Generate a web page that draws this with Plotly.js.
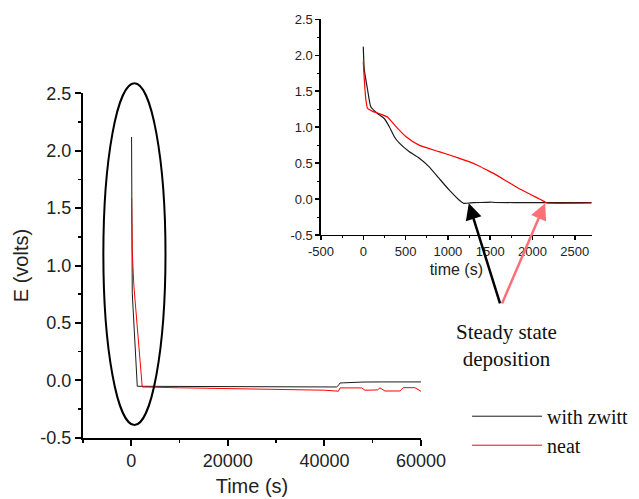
<!DOCTYPE html>
<html>
<head>
<meta charset="utf-8">
<script src="https://cdn.plot.ly/plotly-3.0.1.min.js"></script>
<style>html,body{margin:0;padding:0;background:#fff;}#chart{width:639px;height:499px;}</style>
</head>
<body>
<div id="chart"></div>
<script>
// ---- Main plot data (long run) ----
var mainTimeZwitt = [60, 200, 1240, 2500, 10000, 20000, 30000, 40000, 42500, 42900, 43240, 44000, 45000, 48000, 52000, 60000];
var mainEZwitt    = [2.12, 0.76, -0.052, -0.052, -0.052, -0.053, -0.055, -0.057, -0.058, -0.045, -0.023, -0.022, -0.02, -0.015, -0.014, -0.014];
var mainTimeNeat  = [60, 200, 540, 2270, 10000, 20000, 30000, 40000, 42900, 43240, 47720, 48400, 50000, 51000, 51500, 52000, 52540, 55640, 56320, 58740, 59770, 60000];
var mainENeat     = [1.59, 1.12, 0.82, -0.058, -0.065, -0.072, -0.08, -0.086, -0.095, -0.066, -0.066, -0.086, -0.085, -0.083, -0.066, -0.08, -0.093, -0.093, -0.064, -0.064, -0.095, -0.095];

// ---- Inset data (first 2700 s) ----
var insetTimeZwitt = [0, 12, 51, 90, 169, 247, 306, 365, 424, 541, 659, 776, 894, 1012, 1129, 1188, 1300, 1450, 1500, 1550, 2000, 2700];
var insetEZwitt    = [2.12, 1.80, 1.52, 1.28, 1.19, 1.12, 1.01, 0.87, 0.78, 0.66, 0.57, 0.45, 0.29, 0.13, -0.01, -0.06, -0.05, -0.047, -0.043, -0.047, -0.05, -0.05];
var insetTimeNeat  = [0, 12, 31, 51, 110, 208, 286, 384, 502, 659, 894, 1129, 1250, 1350, 1450, 1550, 1650, 1750, 1850, 1950, 2050, 2141, 2170, 2700];
var insetENeat     = [1.91, 1.66, 1.38, 1.26, 1.22, 1.18, 1.14, 1.01, 0.87, 0.75, 0.66, 0.57, 0.52, 0.47, 0.41, 0.35, 0.28, 0.21, 0.14, 0.08, 0.02, -0.036, -0.055, -0.055];

var seriesNames = ['with zwitt', 'neat'];
var mainXTicks = [0, 20000, 40000, 60000];
var mainXTickText = ['0', '20000', '40000', '60000'];
var yTicks = [-0.5, 0, 0.5, 1, 1.5, 2, 2.5];
var yTickText = ['-0.5', '0.0', '0.5', '1.0', '1.5', '2.0', '2.5'];
var insetXTicks = [-500, 0, 500, 1000, 1500, 2000, 2500];
var insetXTickText = ['-500', '0', '500', '1000', '1500', '2000', '2500'];

var sans = 'Liberation Sans, Arial, sans-serif';
var serif = 'Liberation Serif, Times New Roman, serif';
var black = '#1a1a1a', red = '#ff0000';

var traces = [
  {x: mainTimeZwitt, y: mainEZwitt, xaxis: 'x', yaxis: 'y', mode: 'lines', name: seriesNames[0],
   line: {color: black, width: 1}, showlegend: true},
  {x: mainTimeNeat, y: mainENeat, xaxis: 'x', yaxis: 'y', mode: 'lines', name: seriesNames[1],
   line: {color: red, width: 1}, showlegend: true},
  {x: insetTimeZwitt, y: insetEZwitt, xaxis: 'x2', yaxis: 'y2', mode: 'lines', name: seriesNames[0],
   line: {color: black, width: 1.2, shape: 'spline', smoothing: 0.5}, showlegend: false},
  {x: insetTimeNeat, y: insetENeat, xaxis: 'x2', yaxis: 'y2', mode: 'lines', name: seriesNames[1],
   line: {color: red, width: 1.2, shape: 'spline', smoothing: 0.5}, showlegend: false}
];

function axisBase(size) {
  return {
    showgrid: false, zeroline: false, showline: true, linecolor: '#000', mirror: false,
    ticks: 'outside', tickcolor: '#000', tickfont: {family: sans, size: size, color: '#222'}
  };
}

var xMain = Object.assign(axisBase(18), {
  domain: [0.1299, 0.6588], range: [-10000, 60000], anchor: 'y',
  tickmode: 'array', tickvals: mainXTicks, ticktext: mainXTickText,
  ticklen: 6, tickwidth: 2, linewidth: 2,
  minor: {tickmode: 'linear', tick0: 0, dtick: 10000, ticks: 'outside', ticklen: 3, tickwidth: 1.5, tickcolor: '#000'},
  title: {text: 'Time (s)', font: {family: sans, size: 20, color: '#222'}, standoff: 9}
});
var yMain = Object.assign(axisBase(18), {
  domain: [0.1228, 0.8130], range: [-0.5, 2.5], anchor: 'x',
  tickmode: 'array', tickvals: yTicks, ticktext: yTickText,
  ticklen: 6, tickwidth: 2, linewidth: 2,
  minor: {tickmode: 'linear', tick0: 0, dtick: 0.25, ticks: 'outside', ticklen: 3, tickwidth: 1.5, tickcolor: '#000'},
  title: {text: 'E (volts)', font: {family: sans, size: 20, color: '#222'}, standoff: 6}
});
var xInset = Object.assign(axisBase(13), {
  domain: [0.5023, 0.926], range: [-500, 2700], anchor: 'y2',
  tickmode: 'array', tickvals: insetXTicks, ticktext: insetXTickText,
  ticklen: 4, tickwidth: 1.5, linewidth: 1.5,
  minor: {tickmode: 'linear', tick0: 0, dtick: 250, ticks: 'outside', ticklen: 2, tickwidth: 1, tickcolor: '#000'},
  title: {text: 'time (s)', font: {family: sans, size: 16, color: '#222'}, standoff: 5}
});
var yInset = Object.assign(axisBase(13), {
  domain: [0.5291, 0.9613], range: [-0.5, 2.5], anchor: 'x2',
  tickmode: 'array', tickvals: yTicks, ticktext: yTickText,
  ticklen: 4, tickwidth: 1.5, linewidth: 1.5,
  minor: {tickmode: 'linear', tick0: 0, dtick: 0.25, ticks: 'outside', ticklen: 2, tickwidth: 1, tickcolor: '#000'}
});

var layout = {
  width: 639, height: 499,
  margin: {l: 0, r: 0, t: 0, b: 0},
  paper_bgcolor: '#fff', plot_bgcolor: 'rgba(0,0,0,0)',
  xaxis: xMain, yaxis: yMain, xaxis2: xInset, yaxis2: yInset,
  showlegend: true,
  legend: {x: 0.731, y: 0.205, xanchor: 'left', yanchor: 'top', bgcolor: 'rgba(0,0,0,0)',
           font: {family: serif, size: 20, color: '#111'}, itemwidth: 70, tracegroupgap: 0},
  shapes: [
    {type: 'circle', xref: 'x', yref: 'paper', x0: -5785, x1: 7086, y0: 0.1483, y1: 0.833,
     line: {color: '#000', width: 2}}
  ],
  annotations: [
    {xref: 'x2', yref: 'y2', x: 1247, y: -0.059, ax: 31.7, ay: 101.7, text: '', showarrow: true,
     arrowhead: 2, arrowsize: 1.3, arrowwidth: 2.5, arrowcolor: '#000', standoff: 0},
    {xref: 'x2', yref: 'y2', x: 2149, y: -0.059, ax: -43.7, ay: 101.7, text: '', showarrow: true,
     arrowhead: 2, arrowsize: 1.3, arrowwidth: 2.5, arrowcolor: '#ff6f78', standoff: 0},
    {xref: 'paper', yref: 'paper', x: 0.7934, y: 0.307, xanchor: 'center', yanchor: 'middle',
     text: 'Steady state<br>deposition', showarrow: false, align: 'center',
     font: {family: serif, size: 21, color: '#111'}}
  ]
};

Plotly.newPlot('chart', traces, layout, {displayModeBar: false, staticPlot: true});
</script>
</body>
</html>
